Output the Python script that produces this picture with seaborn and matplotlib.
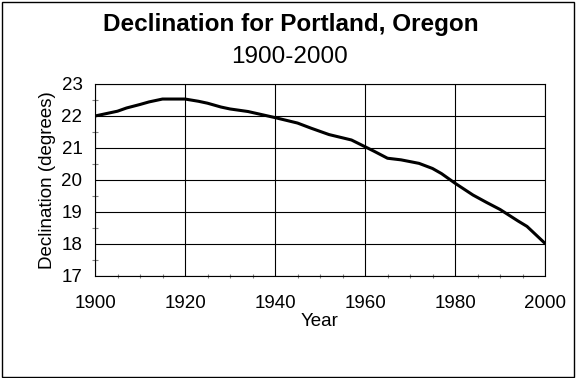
import pandas as pd
import matplotlib.pyplot as plt
import matplotlib.patches as patches
from matplotlib.ticker import MultipleLocator
import seaborn as sns

# 포틀랜드 편각 데이터
years = [1900, 1905, 1907, 1910, 1912, 1915, 1920, 1923, 1925, 1928, 1930,
         1934, 1940, 1945, 1948, 1950, 1952, 1957, 1960, 1962, 1965, 1968,
         1972, 1975, 1977, 1980, 1984, 1987, 1990, 1994, 1996, 2000]
declination = [22.00, 22.15, 22.25, 22.36, 22.44, 22.53, 22.53, 22.46, 22.40,
               22.28, 22.22, 22.14, 21.95, 21.78, 21.62, 21.52, 21.42, 21.25,
               21.04, 20.90, 20.68, 20.63, 20.52, 20.36, 20.20, 19.90, 19.53,
               19.30, 19.08, 18.72, 18.55, 18.02]

df = pd.DataFrame({"Year": years, "Declination": declination})

sns.set_style("white")
plt.rcParams["font.family"] = ["Liberation Sans", "DejaVu Sans"]
plt.rcParams["text.color"] = "black"
plt.rcParams["axes.labelcolor"] = "black"
plt.rcParams["xtick.color"] = "black"
plt.rcParams["ytick.color"] = "black"

fig = plt.figure(figsize=(5.76, 3.78), dpi=100)
ax = fig.add_axes([95 / 576, 1 - 276 / 378, 450 / 576, 192 / 378])

sns.lineplot(data=df, x="Year", y="Declination", color="black",
             linewidth=2.2, ax=ax)

ax.set_xlim(1900, 2000)
ax.set_ylim(17, 23)
ax.xaxis.set_major_locator(MultipleLocator(20))
ax.xaxis.set_minor_locator(MultipleLocator(5))
ax.yaxis.set_major_locator(MultipleLocator(1))
ax.yaxis.set_minor_locator(MultipleLocator(0.5))

ax.grid(True, which="major", color="black", linewidth=0.8)
for s in ax.spines.values():
    s.set_color("black")
    s.set_linewidth(0.8)

ax.tick_params(axis="x", which="major", direction="out", length=3.6,
               width=0.8, colors="black", labelsize=13.5, pad=10)
ax.tick_params(axis="y", which="major", direction="out", length=6,
               width=0.8, colors="black", labelsize=13.5, pad=3)
ax.tick_params(axis="x", which="minor", direction="inout", length=3.5,
               width=0.8, color="gray", bottom=True)
ax.tick_params(axis="y", which="minor", direction="inout", length=5,
               width=0.8, color="gray", left=True)

ax.set_xlabel("Year", fontsize=13.5, labelpad=1, color="black")
ax.set_ylabel("Declination (degrees)", fontsize=13.5, labelpad=4,
              color="black")

fig.text(0.505, 1 - 31 / 378, "Declination for Portland, Oregon",
         ha="center", va="baseline", fontsize=17.5, fontweight="bold",
         color="black")
fig.text(0.503, 1 - 63 / 378, "1900-2000", ha="center", va="baseline",
         fontsize=17.5, color="black")

# 그림 테두리
fig.patches.append(patches.Rectangle((2 / 576, 1 / 378), 572 / 576, 375 / 378,
                                     transform=fig.transFigure, fill=False,
                                     edgecolor="black", linewidth=1))

fig.savefig("out.png", dpi=100)
